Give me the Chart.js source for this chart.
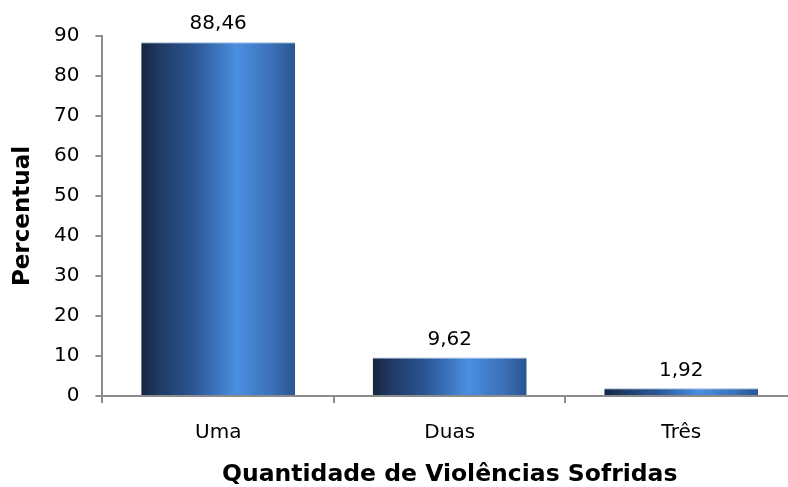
<!DOCTYPE html>
<html>
<head>
<meta charset="utf-8">
<script src="https://cdn.jsdelivr.net/npm/chart.js@4.4.1/dist/chart.umd.min.js"></script>
<style>
  body { margin: 0; background: #fff; }
  #wrap { width: 788px; height: 487px; overflow: hidden; }
</style>
</head>
<body>
<div id="wrap"><canvas id="myChart" width="800" height="487"></canvas></div>
<script>
const categorias = ["Uma", "Duas", "Três"];
const percentuais = [88.46, 9.62, 1.92];
const ticksY = [0, 10, 20, 30, 40, 50, 60, 70, 80, 90];

const barPct = 0.665;
const fonte = "'DejaVu Sans', Verdana, sans-serif";

function gradienteBarra(context) {
  const chart = context.chart;
  const xs = chart.scales.x;
  if (!xs || !chart.chartArea) return "#3a72b8";
  const centro = xs.getPixelForValue(context.dataIndex);
  const meia = (xs.width / categorias.length) * barPct / 2;
  const g = chart.ctx.createLinearGradient(centro - meia, 0, centro + meia, 0);
  g.addColorStop(0, "#152640");
  g.addColorStop(0.12, "#1f3a63");
  g.addColorStop(0.35, "#2c5796");
  g.addColorStop(0.62, "#4a8fe0");
  g.addColorStop(0.85, "#3a70b6");
  g.addColorStop(1, "#2b5590");
  return g;
}

const rotulos = {
  id: "rotulos",
  afterDatasetsDraw(chart) {
    const ctx = chart.ctx;
    const meta = chart.getDatasetMeta(0);
    ctx.save();
    ctx.font = "20px " + fonte;
    ctx.fillStyle = "#000";
    ctx.textAlign = "center";
    ctx.textBaseline = "middle";
    meta.data.forEach((bar, i) => {
      const txt = percentuais[i].toFixed(2).replace(".", ",");
      ctx.fillText(txt, bar.x, bar.y - 18);
    });
    ctx.restore();
  }
};

const config = {
  type: "bar",
  data: {
    labels: categorias,
    datasets: [{
      data: percentuais,
      backgroundColor: gradienteBarra,
      borderColor: "#9db9df",
      borderWidth: { top: 1, left: 0, right: 0, bottom: 0 },
      borderSkipped: false,
      categoryPercentage: 1,
      barPercentage: barPct
    }]
  },
  options: {
    responsive: false,
    animation: false,
    layout: { padding: { top: 36, right: 3, bottom: 0, left: 0 } },
    plugins: {
      legend: { display: false },
      tooltip: { enabled: false }
    },
    scales: {
      x: {
        grid: {
          display: true,
          drawOnChartArea: false,
          offset: true,
          color: "#8c8c8c",
          lineWidth: 2,
          tickLength: 7
        },
        border: { color: "#8c8c8c", width: 2 },
        ticks: {
          color: "#000",
          padding: 18,
          font: { family: fonte, size: 20 }
        },
        title: {
          display: true,
          text: "Quantidade de Violências Sofridas",
          color: "#000",
          font: { family: fonte, size: 23.5, weight: "bold", lineHeight: 1 },
          padding: { top: 0.5, bottom: 0 }
        }
      },
      y: {
        min: 0,
        max: 90,
        afterBuildTicks(scale) {
          scale.ticks = ticksY.map(v => ({ value: v }));
        },
        grid: {
          display: true,
          drawOnChartArea: false,
          color: "#8c8c8c",
          lineWidth: 2,
          tickLength: 7
        },
        border: { color: "#8c8c8c", width: 2 },
        ticks: {
          color: "#000",
          padding: 16,
          font: { family: fonte, size: 20 }
        },
        title: {
          display: true,
          text: "Percentual",
          color: "#000",
          font: { family: fonte, size: 23, weight: "bold", lineHeight: 1 },
          padding: { top: 12, bottom: 3 }
        }
      }
    }
  },
  plugins: [rotulos]
};

new Chart(document.getElementById("myChart"), config);
</script>
</body>
</html>
